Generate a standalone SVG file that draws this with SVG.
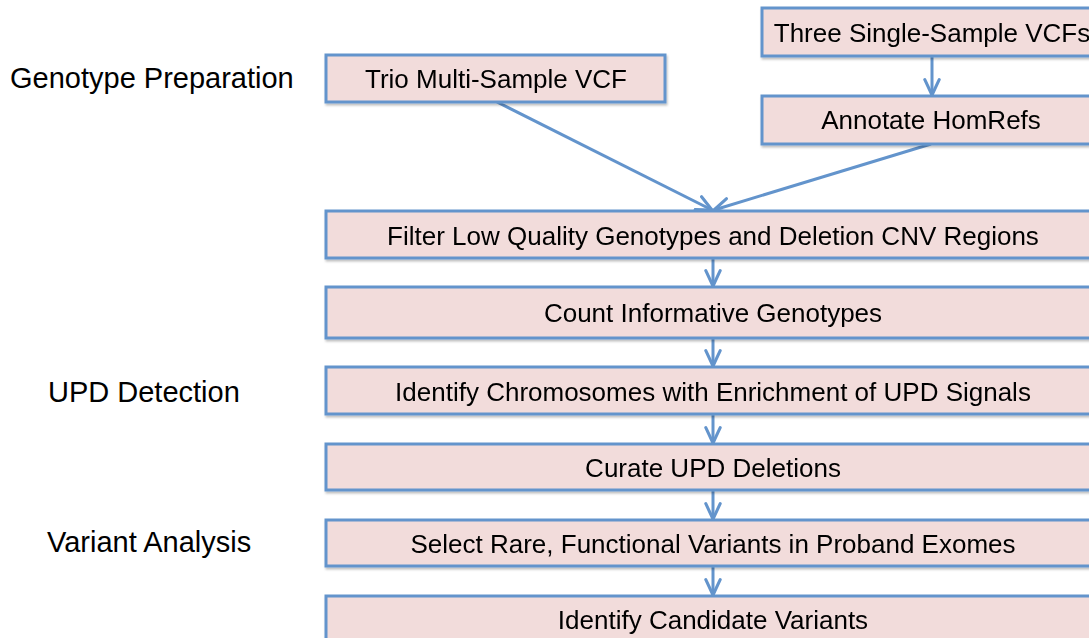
<svg xmlns="http://www.w3.org/2000/svg" width="1089" height="638" viewBox="0 0 1089 638">
<style>
.box{fill:#F2DCDB;stroke:#6394CC;stroke-width:3}
.t{font-family:"Liberation Sans",Arial,sans-serif;font-size:26px;fill:#000;text-anchor:middle}
.lbl{font-family:"Liberation Sans",Arial,sans-serif;font-size:29px;fill:#000}
.c{fill:none;stroke:#6394CC;stroke-width:3}
</style>
<defs>
<filter id="sh" x="-5%" y="-20%" width="110%" height="150%">
<feDropShadow dx="1" dy="2" stdDeviation="1.2" flood-color="#000" flood-opacity="0.25"/>
</filter>
<marker id="ah" viewBox="0 0 10 10" refX="9.5" refY="5" markerWidth="18" markerHeight="18" markerUnits="userSpaceOnUse" orient="auto">
<path d="M1,1 L9.5,5 L1,9" fill="none" stroke="#6394CC" stroke-width="1.7" stroke-linecap="round" stroke-linejoin="round"/>
</marker>
</defs>
<rect width="1089" height="638" fill="#fff"/>
<g id="labels">
<text class="lbl" x="10" y="88">Genotype Preparation</text>
<text class="lbl" x="48" y="402">UPD Detection</text>
<text class="lbl" x="47" y="552">Variant Analysis</text>
</g>
<g id="connectors">
<line class="c" x1="932" y1="56" x2="932" y2="95" marker-end="url(#ah)"/>
<line class="c" x1="497" y1="102" x2="712" y2="210" marker-end="url(#ah)"/>
<line class="c" x1="931" y1="144" x2="714" y2="210" marker-end="url(#ah)"/>
<line class="c" x1="713" y1="258" x2="713" y2="286" marker-end="url(#ah)"/>
<line class="c" x1="713" y1="338" x2="713" y2="366" marker-end="url(#ah)"/>
<line class="c" x1="713" y1="414" x2="713" y2="443" marker-end="url(#ah)"/>
<line class="c" x1="713" y1="490" x2="713" y2="519" marker-end="url(#ah)"/>
<line class="c" x1="713" y1="566" x2="713" y2="595" marker-end="url(#ah)"/>
</g>
<g id="trio" filter="url(#sh)">
<rect class="box" x="326" y="55" width="339" height="47"/>
<text class="t" x="496" y="88">Trio Multi-Sample VCF</text>
</g>
<g id="three" filter="url(#sh)">
<rect class="box" x="762" y="8" width="338" height="48"/>
<text class="t" x="932" y="42">Three Single-Sample VCFs</text>
</g>
<g id="annotate" filter="url(#sh)">
<rect class="box" x="762" y="96" width="338" height="48"/>
<text class="t" x="931" y="129">Annotate HomRefs</text>
</g>
<g id="filter" filter="url(#sh)">
<rect class="box" x="326" y="211" width="774" height="47"/>
<text class="t" x="713" y="245">Filter Low Quality Genotypes and Deletion CNV Regions</text>
</g>
<g id="count" filter="url(#sh)">
<rect class="box" x="326" y="287" width="774" height="51"/>
<text class="t" x="713" y="322">Count Informative Genotypes</text>
</g>
<g id="identify-chrom" filter="url(#sh)">
<rect class="box" x="326" y="367" width="774" height="47"/>
<text class="t" x="713" y="401">Identify Chromosomes with Enrichment of UPD Signals</text>
</g>
<g id="curate" filter="url(#sh)">
<rect class="box" x="326" y="444" width="774" height="46"/>
<text class="t" x="713" y="477">Curate UPD Deletions</text>
</g>
<g id="select" filter="url(#sh)">
<rect class="box" x="326" y="520" width="774" height="46"/>
<text class="t" x="713" y="553">Select Rare, Functional Variants in Proband Exomes</text>
</g>
<g id="candidate" filter="url(#sh)">
<rect class="box" x="326" y="596" width="774" height="50"/>
<text class="t" x="713" y="629">Identify Candidate Variants</text>
</g>
</svg>
